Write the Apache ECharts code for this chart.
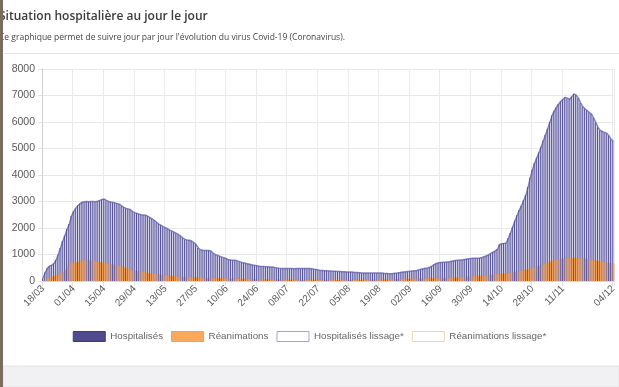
<!DOCTYPE html>
<html>
<head>
<meta charset="utf-8">
<script src="https://cdn.jsdelivr.net/npm/echarts@6/dist/echarts.min.js"></script>
<style>
html,body{margin:0;padding:0;background:#fff;}
#chart{width:619px;height:387px;}
</style>
</head>
<body>
<div id="chart"></div>
<script>
// ---- data ----
const startDate = [2020, 2, 18]; // 18/03/2020
const dayCount = 262;            // 18/03 .. 04/12
const yTicks = [0, 1000, 2000, 3000, 4000, 5000, 6000, 7000, 8000];

const hospitalises = [
100,320,480,560,600,660,800,1000,1250,1500,1720,1950,2150,2450,
2620,2750,2850,2920,2980,2990,3000,2990,3000,3000,2990,3010,3040,3080,
3090,3040,3000,2980,2960,2940,2920,2900,2830,2780,2740,2720,2690,2620,
2580,2550,2520,2500,2490,2480,2440,2390,2340,2280,2210,2150,2100,2050,
2010,1970,1920,1880,1840,1800,1750,1690,1620,1570,1550,1540,1510,1450,
1380,1250,1180,1160,1150,1150,1150,1120,1040,990,960,930,900,870,
840,800,790,785,780,760,730,700,680,660,640,620,600,590,
575,560,550,545,540,535,530,525,510,495,480,470,470,470,
468,472,470,465,470,475,470,468,470,472,470,460,445,430,
415,400,395,390,385,380,375,370,365,360,355,350,345,340,
340,335,330,325,320,315,305,300,300,300,302,300,298,300,
300,298,290,285,280,278,280,290,300,315,330,340,350,360,
370,380,390,400,420,440,460,480,490,520,560,620,660,690,
700,705,710,720,730,745,760,770,780,790,800,815,830,840,
850,855,860,860,870,890,920,950,990,1040,1090,1140,1200,1380,
1410,1420,1430,1620,1820,2050,2270,2480,2680,2850,3050,3250,3550,3900,
4200,4450,4650,4850,5070,5300,5520,5750,6000,6250,6420,6560,6680,6780,
6860,6930,6900,6860,6950,7060,7010,6900,6720,6580,6500,6430,6360,6300,
6150,5980,5800,5680,5640,5600,5580,5480,5350,5280
];

const reanimations = [
50,80,100,130,160,190,210,250,290,340,420,550,760,680,
670,700,730,750,770,790,790,780,770,760,740,720,700,690,
680,670,650,640,620,600,580,560,540,520,490,460,440,410,
390,375,360,350,335,320,300,290,280,270,260,250,240,230,
220,210,200,190,180,170,160,155,152,150,150,148,146,145,
140,135,130,125,120,118,115,112,110,108,105,102,100,98,
95,92,90,88,85,82,80,78,76,74,72,70,68,66,
65,63,62,60,58,57,56,55,54,52,50,50,48,47,
46,45,45,44,43,42,42,41,40,40,40,39,38,38,
38,37,37,36,36,36,35,35,35,35,36,36,37,37,
38,38,39,40,40,41,42,43,44,45,46,48,50,52,
54,56,58,60,62,64,66,68,70,72,74,76,78,80,
82,84,86,88,90,92,94,96,98,100,102,104,106,108,
110,113,116,120,124,128,132,136,140,145,150,155,160,165,
170,176,182,188,194,200,208,216,224,232,240,248,255,265,
275,285,295,305,318,330,345,360,375,390,405,420,440,460,
490,520,550,580,610,640,670,700,730,760,785,805,820,835,
845,855,860,862,865,866,865,860,852,845,835,825,815,800,
785,770,755,740,725,710,695,680,665,650
];

// category labels dd/mm
const dates = [];
for (let i = 0; i < dayCount; i++) {
  const d = new Date(startDate[0], startDate[1], startDate[2] + i);
  dates.push(String(d.getDate()).padStart(2, '0') + '/' + String(d.getMonth() + 1).padStart(2, '0'));
}

const showTick = (idx) => (idx % 14 === 0 && idx <= 238) || idx === dayCount - 1;

const chart = echarts.init(document.getElementById('chart'), null, {renderer: 'canvas'});
chart.setOption({
  animation: false,
  backgroundColor: '#ffffff',
  title: {
    text: 'Situation hospitalière au jour le jour',
    subtext: "Ce graphique permet de suivre jour par jour l'évolution du virus Covid-19 (Coronavirus).",
    left: -1,
    top: 11,
    itemGap: 10,
    padding: 0,
    textStyle: {fontFamily: 'Open Sans', fontSize: 12, fontWeight: 600, color: '#3a3a3a'},
    subtextStyle: {fontFamily: 'Open Sans', fontSize: 8.5, color: '#444'}
  },
  graphic: [
    {type: 'rect', left: 0, top: 0, shape: {width: 3, height: 387}, style: {fill: '#7b6c5d'}, z: 10},
    {type: 'line', shape: {x1: 4, y1: 53.5, x2: 619, y2: 53.5}, style: {stroke: '#e6e6e6', lineWidth: 1}},
    {type: 'rect', shape: {x: 3, y: 366, width: 616, height: 21}, style: {fill: '#f1f1f3', stroke: '#e4e4e6', lineWidth: 1}}
  ],
  legend: {
    top: 326,
    left: 'center',
    itemWidth: 32,
    itemHeight: 10,
    itemGap: 8,
    textStyle: {fontFamily: 'Liberation Sans', fontSize: 9.8, color: '#666'},
    data: [
      {name: 'Hospitalisés', icon: 'rect', itemStyle: {color: '#4f4b8e', borderColor: '#3e3a7c', borderWidth: 1}},
      {name: 'Réanimations', icon: 'rect', itemStyle: {color: '#f9a95b', borderColor: '#f4a050', borderWidth: 1}},
      {name: 'Hospitalisés lissage*', icon: 'rect', itemStyle: {color: '#ffffff', borderColor: '#a6a3d2', borderWidth: 1}},
      {name: 'Réanimations lissage*', icon: 'rect', itemStyle: {color: '#ffffff', borderColor: '#f8d2ad', borderWidth: 1}}
    ]
  },
  grid: {left: 42, right: 2, top: 69, bottom: 106, containLabel: false},
  xAxis: {
    type: 'category',
    data: dates,
    boundaryGap: true,
    axisLine: {lineStyle: {color: '#d6d6d6'}},
    axisTick: {show: true, interval: showTick, length: 5, lineStyle: {color: '#e2e2e2'}},
    splitLine: {show: true, interval: showTick, lineStyle: {color: '#ebebeb'}},
    axisLabel: {
      interval: showTick, rotate: 45, margin: 6,
      fontFamily: 'Liberation Sans', fontSize: 10, color: '#5a5a5a'
    }
  },
  yAxis: {
    type: 'value',
    min: yTicks[0],
    max: yTicks[yTicks.length - 1],
    interval: 1000,
    axisLine: {show: true, lineStyle: {color: '#cfcfcf'}},
    axisTick: {show: true, length: 4, lineStyle: {color: '#e2e2e2'}},
    splitLine: {lineStyle: {color: '#e8e8e8'}},
    axisLabel: {margin: 7, fontFamily: 'Liberation Sans', fontSize: 10.5, color: '#5a5a5a', formatter: (v) => String(v)}
  },
  series: [
    {
      name: 'Hospitalisés lissage*', type: 'line', data: hospitalises,
      symbol: 'none', z: 1,
      lineStyle: {color: '#8783c0', width: 1.5},
      itemStyle: {color: '#a6a3d2'},
      areaStyle: {color: '#d4d3ea', opacity: 1}
    },
    {
      name: 'Réanimations lissage*', type: 'line', data: reanimations,
      symbol: 'none', z: 1,
      lineStyle: {color: '#f5c59b', width: 1},
      itemStyle: {color: '#f8d2ad'},
      areaStyle: {color: '#f3c59c', opacity: 1}
    },
    {
      name: 'Hospitalisés', type: 'bar', data: hospitalises,
      barWidth: 0.9, barGap: '0%', z: 2,
      itemStyle: {color: '#534f98'}
    },
    {
      name: 'Réanimations', type: 'bar', data: reanimations,
      barWidth: 1.1, barGap: '0%', z: 2,
      itemStyle: {color: '#f39f56'}
    }
  ]
});
</script>
</body>
</html>
